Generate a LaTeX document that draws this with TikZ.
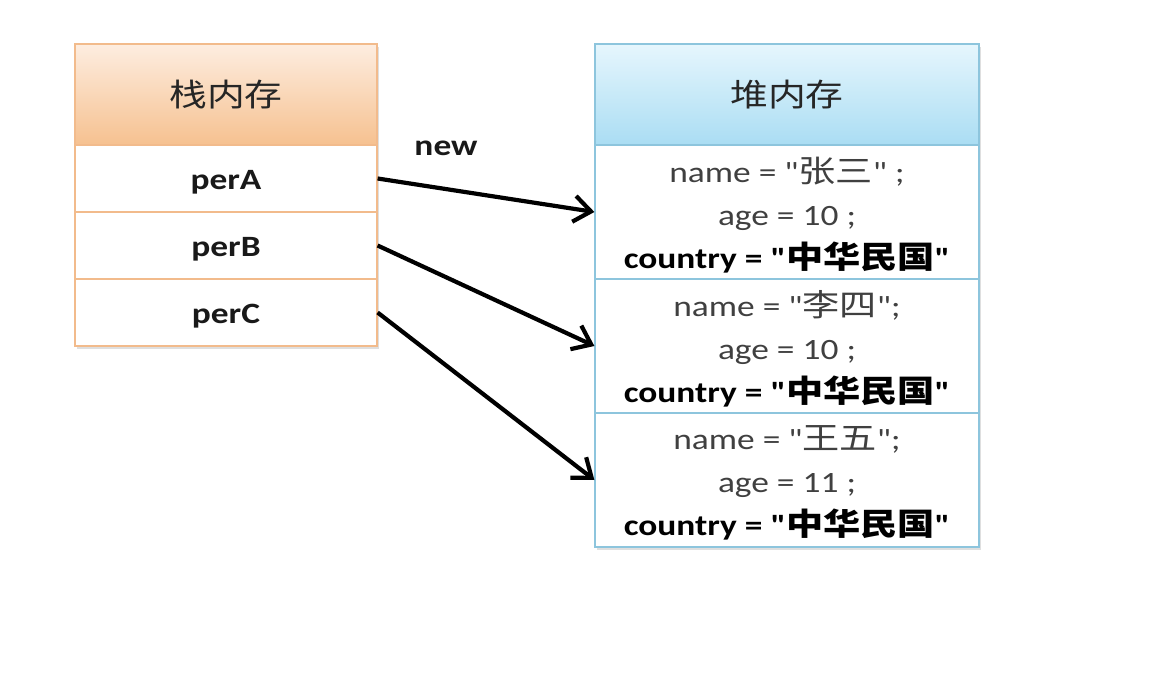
\documentclass[tikz,border=0pt]{standalone}
\usepackage{fontspec}
\newfontfamily\calfont{Carlito}[FakeStretch=1.2]
\newfontfamily\cjk{Noto Sans CJK SC}[FakeStretch=1.2, Scale=1.05]
\usetikzlibrary{arrows.meta,shadows}
\definecolor{stackborder}{HTML}{F2BB8C}
\definecolor{stacktop}{HTML}{FDEDE0}
\definecolor{stackbot}{HTML}{F6C190}
\definecolor{heapborder}{HTML}{8DC5DD}
\definecolor{heaptop}{HTML}{E6F6FD}
\definecolor{heapbot}{HTML}{AADDF3}
\definecolor{txtgray}{HTML}{404040}
\begin{document}
\begin{tikzpicture}[x=1pt,y=-1pt,
  boxbg/.style={fill=white, inner sep=0pt, drop shadow={opacity=0.25, shadow xshift=2pt, shadow yshift=-3pt}},
  stackhead/.style={draw=stackborder, line width=1.2pt, top color=stacktop, bottom color=stackbot,
     minimum width=302pt, minimum height=101pt, inner sep=0pt, font=\fontsize{30}{37}\selectfont\cjk, text=black!85},
  stackcell/.style={draw=stackborder, line width=1.2pt, fill=white, minimum width=302pt, minimum height=67pt, inner sep=0pt},
  heaphead/.style={draw=heapborder, line width=1.2pt, top color=heaptop, bottom color=heapbot,
     minimum width=384pt, minimum height=101pt, inner sep=0pt, font=\fontsize{30}{37}\selectfont\cjk, text=black!85},
  heapcell/.style={draw=heapborder, line width=1.2pt, fill=white, minimum width=384pt, minimum height=134pt, inner sep=0pt},
  celltxt/.style={inner sep=0pt, font=\fontsize{29.5}{43}\selectfont\calfont\bfseries, text=black!90},
  objtxt/.style={inner sep=0pt, align=center, font=\fontsize{29.5}{43}\selectfont\calfont, text=txtgray},
  link/.style={line width=4.2pt, -{Straight Barb[length=17pt,width=26pt]}},
  lbl/.style={font=\fontsize{29.5}{35}\selectfont\calfont\bfseries, text=black!90, inner sep=0pt}
]
\useasboundingbox (0,0) rectangle (1172,692);

% stack
\node[boxbg, minimum width=302pt, minimum height=302pt] (stackbg) at (226,195) {};
\node[stackhead] (stackhd) at (226,94.5) {栈内存};
\node[stackcell] (perA) at (226,178.5) {};
\node[stackcell] (perB) at (226,245.5) {};
\node[stackcell] (perC) at (226,312.5) {};
\node[celltxt] (perAt) at ([yshift=-4pt]perA.center) {perA};
\node[celltxt] (perBt) at ([yshift=-4pt]perB.center) {perB};
\node[celltxt] (perCt) at ([yshift=-4pt]perC.center) {perC};

% heap
\node[boxbg, minimum width=384pt, minimum height=503pt] (heapbg) at (787,295.5) {};
\node[heaphead] (heaphd) at (787,94.5) {堆内存};
\node[heapcell] (obj1) at (787,212) {};
\node[heapcell] (obj2) at (787,346) {};
\node[heapcell] (obj3) at (787,480) {};
\node[objtxt] (obj1t) at ([yshift=-3pt]obj1.center) {name = "{\cjk 张三}" ;\\ age = 10 ;\\ \textcolor{black}{\bfseries country = "{\cjk 中华民国}"}};
\node[objtxt] (obj2t) at ([yshift=-3pt]obj2.center) {name = "{\cjk 李四}";\\ age = 10 ;\\ \textcolor{black}{\bfseries country = "{\cjk 中华民国}"}};
\node[objtxt] (obj3t) at ([yshift=-3pt]obj3.center) {name = "{\cjk 王五}";\\ age = 11 ;\\ \textcolor{black}{\bfseries country = "{\cjk 中华民国}"}};

% links
\node[lbl] (lblnew) at (446,148) {new};
\draw[link] (perA.east) -- (obj1.west);
\draw[link] (perB.east) -- (obj2.west);
\draw[link] (perC.east) -- (obj3.west);
\end{tikzpicture}
\end{document}
